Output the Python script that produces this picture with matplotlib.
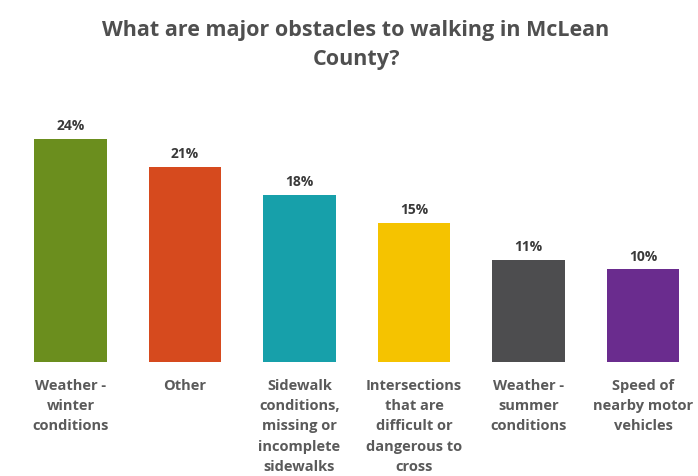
import matplotlib
matplotlib.use("Agg")
import matplotlib.pyplot as plt

categories = [
    "Weather -\nwinter\nconditions",
    "Other",
    "Sidewalk\nconditions,\nmissing or\nincomplete\nsidewalks",
    "Intersections\nthat are\ndifficult or\ndangerous to\ncross",
    "Weather -\nsummer\nconditions",
    "Speed of\nnearby motor\nvehicles",
]
values = [24, 21, 18, 15, 11, 10]
value_labels = ["24%", "21%", "18%", "15%", "11%", "10%"]
colors = ["#6b8e1e", "#d64a1e", "#17a0aa", "#f5c300", "#4d4d4f", "#6a2c8e"]

title = "What are major obstacles to walking in McLean\nCounty?"

W, H = 698, 476
fig = plt.figure(figsize=(W / 100, H / 100), dpi=100)
fig.patch.set_facecolor("white")

# plot area: baseline at y=362 px, top at y=100 px, spanning full width
ax = fig.add_axes([0, (H - 362) / H, 1, 262 / H])
x = list(range(len(values)))
ax.bar(x, values, width=0.63, color=colors)
ax.set_xlim(-70.5 / 114.5, (W - 70.5) / 114.5)
ax.set_ylim(0, 262 / 9.29)
ax.axis("off")

for xi, v, lab in zip(x, values, value_labels):
    ax.annotate(lab, (xi, v), xytext=(0, 4), textcoords="offset points",
                ha="center", va="bottom", fontsize=10, fontweight="bold",
                color="#3a3a3a", family="Open Sans")

for xi, cat in zip(x, categories):
    ax.annotate(cat, (xi, 0), xytext=(0, -12), textcoords="offset points",
                ha="center", va="top", fontsize=10.5, fontweight="bold",
                color="#5a5a5a", family="Open Sans", linespacing=1.58)

fig.text(356 / W, 1 - 20 / H, title, ha="center", va="top", fontsize=15.5,
         fontweight="bold", color="#4f4f4f", family="Open Sans",
         linespacing=1.5)

fig.savefig("out.png", dpi=100, facecolor="white")
